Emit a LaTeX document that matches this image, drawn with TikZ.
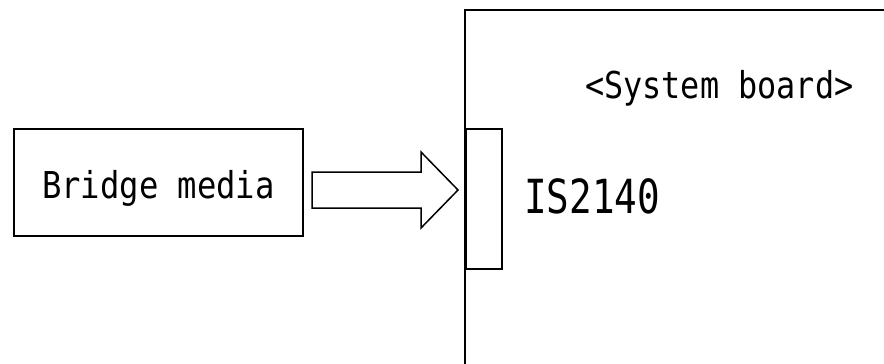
\documentclass[tikz,border=0pt]{standalone}
\usepackage{fontspec}
\setmonofont{DejaVu Sans Mono}
\begin{document}
\begin{tikzpicture}[x=1pt,y=-1pt,
  box/.style={draw,line width=1.8pt,inner sep=0pt},
  lbl/.style={inner sep=0pt,anchor=base west,font=\ttfamily}]
\useasboundingbox (0,0) rectangle (884,364);
% system board outline
\draw[line width=1.8pt] (884,10) -- (465,10) -- (465,364);
% connector on board
\node[box,line width=1.5pt,minimum width=36pt,minimum height=140pt,anchor=north west] (conn) at (465,128) {};
% bridge media box
\node[box,minimum width=289pt,minimum height=107pt,anchor=north west] (bridge) at (13,128) {};
\node[lbl,font=\ttfamily\fontsize{37}{40}\selectfont] (bridgetxt) at (42,198) {\scalebox{0.87}[1]{Bridge media}};
% block arrow
\draw[line width=1.5pt] (312,172) -- (421,172) -- (421,152) -- (458,190) -- (421,228) -- (421,208) -- (312,208) -- cycle;
% labels
\node[lbl,font=\ttfamily\fontsize{37}{40}\selectfont] (boardtxt) at (585,98) {\scalebox{0.86}[1]{<System board>}};
\node[lbl,font=\ttfamily\fontsize{47}{50}\selectfont] (istxt) at (524,213) {\scalebox{0.8}[1]{IS2140}};
\end{tikzpicture}
\end{document}
